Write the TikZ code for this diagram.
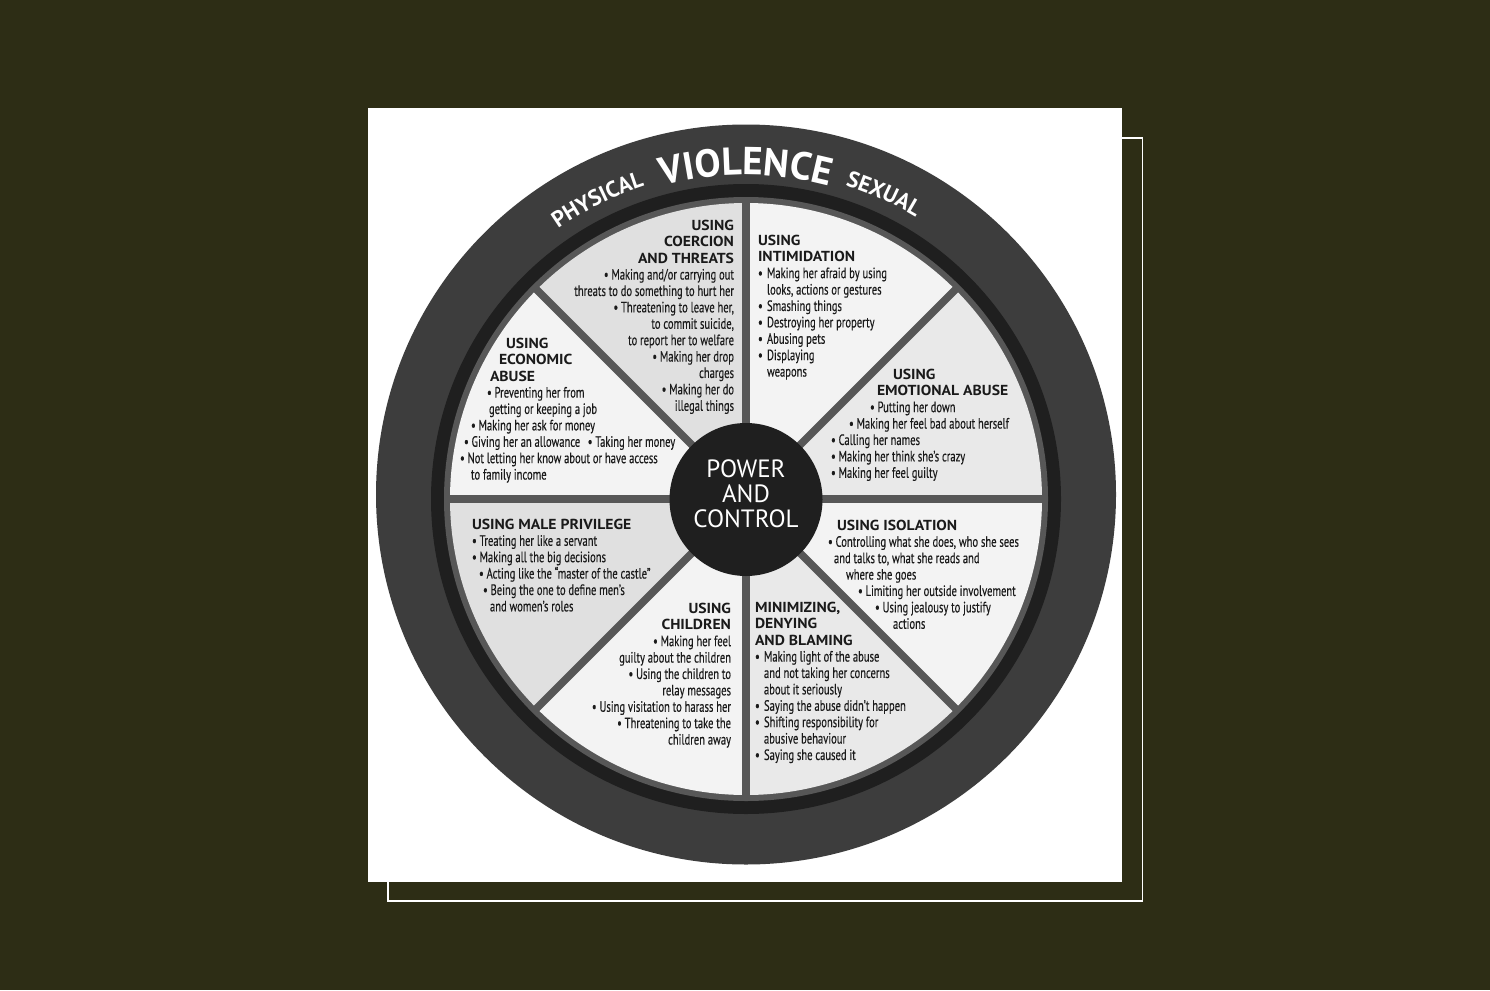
\documentclass[tikz,border=0pt]{standalone}
\usepackage{fontspec}
\setmainfont{PT Sans}
\newfontfamily\bodyf[FakeStretch=0.705,FakeBold=0.3]{PT Sans}
\newfontfamily\headf[FakeStretch=1.08]{PT Sans}
\usetikzlibrary{decorations.text,calc}
\definecolor{bg}{HTML}{2D2D15}
\definecolor{rim}{HTML}{3D3D3D}
\definecolor{band}{HTML}{1F1F1F}
\definecolor{spk}{HTML}{575757}
\definecolor{segA}{HTML}{E0E0E0}
\definecolor{segB}{HTML}{F3F3F3}
\definecolor{segC}{HTML}{E9E9E9}
\definecolor{ink}{HTML}{1A1A1A}
\newcommand\hd[1]{{\headf\bfseries\fontsize{14.5}{16.4}\selectfont #1}}
\newcommand\bl{\makebox[9pt][l]{•}}
\newcommand\ind[1]{\hspace*{#1pt}}
\newcommand\rimbig{\color{white}\fontsize{39}{39}\selectfont\bfseries}
\newcommand\rimsmall{\color{white}\fontsize{22.5}{22.5}\selectfont\bfseries}
\begin{document}
\begin{tikzpicture}[x=1pt,y=1pt,
  seg/.style={inner sep=0pt,outer sep=0pt,text=ink,font=\bodyf\fontsize{15}{16.4}\selectfont},
  spoke/.style={spk,line width=7.5pt},
  rimtext/.style={decorate,decoration={text along path,text align=center,text={#1}}}]
\useasboundingbox (0,0) rectangle (1490,-990);
\fill[bg] (0,0) rectangle (1490,-990);
\draw[white,line width=1.3pt] (388,-138) rectangle (1142.5,-901);
\fill[white] (368,-108) rectangle (1122,-882);
\coordinate (O) at (746,-494.5);
\coordinate (H) at (746,-499);
\fill[rim] (O) circle[radius=370];
\fill[band] (H) circle[radius=315];
\fill[spk] (H) circle[radius=302];
% sectors
\fill[segC] (H) -- ++(0:296) arc[start angle=0,end angle=45,radius=296] -- cycle;
\fill[segB] (H) -- ++(45:296) arc[start angle=45,end angle=90,radius=296] -- cycle;
\fill[segA] (H) -- ++(90:296) arc[start angle=90,end angle=135,radius=296] -- cycle;
\fill[segB] (H) -- ++(135:296) arc[start angle=135,end angle=180,radius=296] -- cycle;
\fill[segA] (H) -- ++(180:296) arc[start angle=180,end angle=225,radius=296] -- cycle;
\fill[segB] (H) -- ++(225:296) arc[start angle=225,end angle=270,radius=296] -- cycle;
\fill[segC] (H) -- ++(270:296) arc[start angle=270,end angle=315,radius=296] -- cycle;
\fill[segB] (H) -- ++(315:296) arc[start angle=315,end angle=360,radius=296] -- cycle;
\foreach \a in {0,45,...,315} \draw[spoke] (H) -- ++(\a:300);
% hub
\fill[band] (746,-499.5) circle[radius=76.5];
\node[inner sep=0pt,text=white,align=center,font=\fontsize{25}{25}\selectfont] (hubtext) at (746,-494) {POWER\\AND\\CONTROL};
% rim text
\path[rimtext={|\rimbig|VIOLENCE}] ($(H)+(120:324)$) arc[start angle=120,end angle=60,radius=324];
\path[rimtext={|\rimsmall|PHYSICAL}] ($(H)+(146.4:329)$) arc[start angle=146.4,end angle=86.4,radius=329];
\path[rimtext={|\rimsmall|SEXUAL}] ($(H)+(95.7:329)$) arc[start angle=95.7,end angle=35.7,radius=329];
% segments text
\node[seg,align=right,anchor=north east] (coercion) at (734,-220) {%
\hd{USING}\\
\hd{COERCION}\\
\hd{AND THREATS}\\
• Making and/or carrying out\\
threats to do something to hurt her\\
• Threatening to leave her,\\
to commit suicide,\\
to report her to welfare\\
• Making her drop\\
charges\\
• Making her do\\
illegal things};
\node[seg,align=left,anchor=north west] (intimidation) at (758,-235) {%
\hd{USING}\\
\hd{INTIMIDATION}\\
\bl Making her afraid by using\\
\ind{9}looks, actions or gestures\\
\bl Smashing things\\
\bl Destroying her property\\
\bl Abusing pets\\
\bl Displaying\\
\ind{9}weapons};
\node[seg,align=left,anchor=north west] (emotional) at (831,-369) {%
\ind{62}\hd{USING}\\
\ind{46}\hd{EMOTIONAL ABUSE}\\
\ind{39}• Putting her down\\
\ind{18}• Making her feel bad about herself\\
• Calling her names\\
• Making her think she’s crazy\\
• Making her feel guilty};
\node[seg,align=left,anchor=north west] (isolation) at (828,-520) {%
\ind{9}\hd{USING ISOLATION}\\
• Controlling what she does, who she sees\\
\ind{6}and talks to, what she reads and\\
\ind{18}where she goes\\
\ind{30}• Limiting her outside involvement\\
\ind{47}• Using jealousy to justify\\
\ind{65}actions};
\node[seg,align=left,anchor=north west] (minimizing) at (755,-602) {%
\hd{MINIMIZING,}\\
\hd{DENYING}\\
\hd{AND BLAMING}\\
\bl Making light of the abuse\\
\ind{9}and not taking her concerns\\
\ind{9}about it seriously\\
\bl Saying the abuse didn’t happen\\
\bl Shifting responsibility for\\
\ind{9}abusive behaviour\\
\bl Saying she caused it};
\node[seg,align=right,anchor=north east] (children) at (731,-603) {%
\hd{USING}\\
\hd{CHILDREN}\\
• Making her feel\\
guilty about the children\\
• Using the children to\\
relay messages\\
• Using visitation to harass her\\
• Threatening to take the\\
children away};
\node[seg,align=left,anchor=north west] (privilege) at (472,-519) {%
\hd{USING MALE PRIVILEGE}\\
• Treating her like a servant\\
• Making all the big decisions\\
\ind{7}• Acting like the “master of the castle”\\
\ind{11}• Being the one to define men’s\\
\ind{18}and women’s roles};
\node[seg,align=left,anchor=north west] (economic) at (460,-338) {%
\ind{46}\hd{USING}\\
\ind{39}\hd{ECONOMIC}\\
\ind{30}\hd{ABUSE}\\
\ind{27}• Preventing her from\\
\ind{29}getting or keeping a job\\
\ind{11}• Making her ask for money\\
\ind{4}• Giving her an allowance\enspace• Taking her money\\
• Not letting her know about or have access\\
\ind{11}to family income};
\end{tikzpicture}
\end{document}
